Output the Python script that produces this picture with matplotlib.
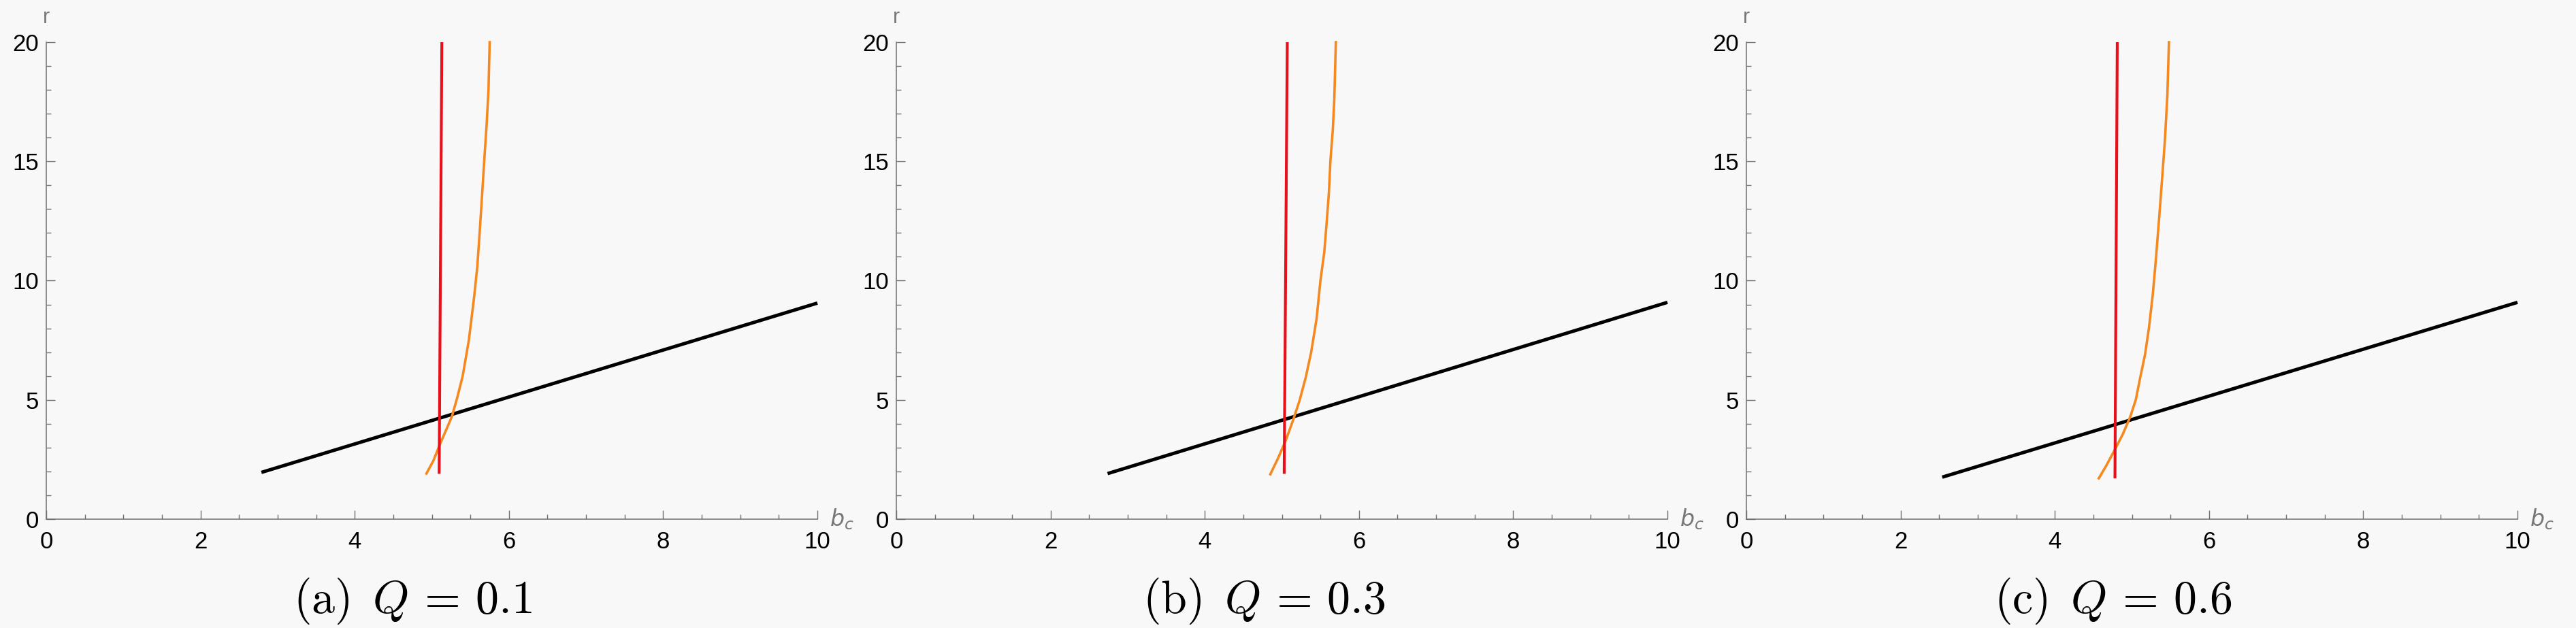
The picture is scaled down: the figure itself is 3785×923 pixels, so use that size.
import numpy as np
import matplotlib.pyplot as plt
from matplotlib.ticker import MultipleLocator

# panel captions
captions = ['(a)', '(b)', '(c)']
Q_values = ['0.1', '0.3', '0.6']

# black straight line (start, end) per panel
black_x = [[2.79, 10.0], [2.74, 10.0], [2.54, 10.0]]
black_y = [[1.96, 9.06], [1.91, 9.09], [1.76, 9.09]]

# red (almost vertical) line per panel
red_x = [[5.095, 5.13], [5.03, 5.07], [4.78, 4.81]]
red_y = [[1.9, 20.0], [1.9, 20.0], [1.71, 20.0]]

# orange curve per panel
orange_x = [[4.93, 5.02, 5.10, 5.18, 5.26, 5.33, 5.40, 5.48, 5.55, 5.59, 5.62, 5.65, 5.68, 5.71, 5.735, 5.75],
            [4.85, 4.95, 5.05, 5.14, 5.23, 5.31, 5.38, 5.45, 5.50, 5.55, 5.58, 5.61, 5.63, 5.66, 5.68, 5.70],
            [4.57, 4.66, 4.76, 4.88, 4.98, 5.05, 5.10, 5.17, 5.22, 5.27, 5.31, 5.35, 5.39, 5.43, 5.46, 5.48]]
orange_y = [[1.91, 2.45, 3.1, 3.7, 4.3, 5.1, 6.0, 7.5, 9.35, 10.6, 12.0, 13.5, 15.05, 16.5, 18.0, 20.0],
            [1.88, 2.55, 3.3, 4.1, 4.98, 5.95, 7.0, 8.4, 10.0, 11.2, 12.4, 13.7, 15.05, 16.3, 17.6, 20.0],
            [1.71, 2.2, 2.8, 3.55, 4.31, 5.0, 5.82, 6.9, 8.0, 9.4, 10.86, 12.5, 14.2, 16.0, 17.8, 20.0]]

plt.rcParams['font.family'] = ['Liberation Sans', 'DejaVu Sans']

W, H = 3785, 923
bg = '#f8f8f8'
axis_col = '#707070'
label_col = '#777777'

fig = plt.figure(figsize=(W / 100, H / 100), dpi=100, facecolor=bg)

lefts = [68, 1317, 2566]
ax_w, ax_top, ax_bot = 1133, 62, 763
cap_x = [606, 1857, 3105]

for i in range(3):
    ax = fig.add_axes([lefts[i] / W, (H - ax_bot) / H, ax_w / W, (ax_bot - ax_top) / H])
    ax.set_facecolor(bg)

    ax.plot(black_x[i], black_y[i], color='black', lw=3.6, solid_capstyle='butt', clip_on=False)
    ax.plot(orange_x[i], orange_y[i], color='#f5891f', lw=2.6, clip_on=False)
    ax.plot(red_x[i], red_y[i], color='#e8101a', lw=3.0, solid_capstyle='butt', clip_on=False)

    ax.set_xlim(0, 10)
    ax.set_ylim(0, 20)
    for s in ['top', 'right']:
        ax.spines[s].set_visible(False)
    for s in ['left', 'bottom']:
        ax.spines[s].set_color(axis_col)
        ax.spines[s].set_linewidth(1.1)

    ax.xaxis.set_major_locator(MultipleLocator(2))
    ax.xaxis.set_minor_locator(MultipleLocator(0.5))
    ax.yaxis.set_major_locator(MultipleLocator(5))
    ax.yaxis.set_minor_locator(MultipleLocator(1))
    ax.tick_params(which='both', direction='in', color=axis_col, width=1.0)
    ax.tick_params(which='major', length=9.5, labelsize=25, labelcolor='black')
    ax.tick_params(which='minor', length=5)
    ax.tick_params(axis='x', which='major', pad=12)
    ax.tick_params(axis='y', which='major', pad=8)

    # axis labels in Mathematica style
    ax.text(10.0, 0.0, r'  $b_c$', transform=ax.transData, ha='left', va='center',
            fontsize=24, color=label_col, math_fontfamily='dejavusans')
    ax.annotate('r', xy=(0, 1), xycoords='axes fraction', xytext=(0, 36),
                textcoords='offset pixels', ha='center', va='center',
                fontsize=22, color=label_col)

    fig.text(cap_x[i] / W, (H - 901) / H,
             r'$\mathrm{' + captions[i] + r'}\ \,Q\,=\,' + Q_values[i] + '$',
             ha='center', va='baseline', fontsize=49, math_fontfamily='cm')

fig.savefig('out.png', dpi=100, facecolor=bg)
